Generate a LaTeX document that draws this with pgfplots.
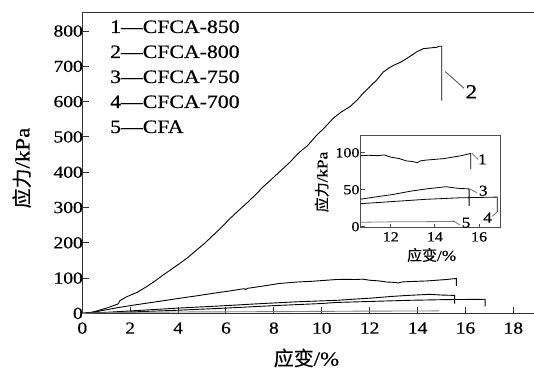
\documentclass[border=0pt]{standalone}
\usepackage{pgfplots}
\usepackage{pgfplotstable}
\pgfplotsset{compat=1.18}
\usepackage{fontspec}
\setmainfont[FakeStretch=1.15, FakeBold=0.6]{Liberation Serif}
\newfontfamily\cjk[FakeBold=0.4]{Noto Sans CJK SC}

% stress (kPa) vs strain (%)
\pgfplotstableread{
x y
0 0
0.6 5
1.29 14
2.0 22
2.69 29
3.4 36
4.08 43
4.8 50
5.47 57
6.1 63
6.75 70
6.82 67.5
6.9 71
7.5 77
8.25 85
9.0 89
9.6 91
10.2 94
10.6 96
11.0 96.5
11.4 96
11.7 97
12.0 94
12.4 92
12.7 89
13.0 88
13.2 86.5
13.35 89
13.6 90
14.0 91
14.4 92
14.8 94
15.2 96
15.62 99
15.62 78
}\curveA

\pgfplotstableread{
x y
0 0
0.4 3
0.74 9.6
1.1 17
1.50 27
1.57 36
1.85 47
2.3 60
2.69 76
3.0 90
3.38 109
3.7 124
4.08 142
4.4 158
4.78 180
5.1 198
5.47 222
5.8 243
6.17 269
6.5 290
6.86 312
7.2 334
7.56 359
7.9 380
8.25 402
8.6 424
9.09 458
9.4 475
9.79 505
10.1 525
10.48 553
10.8 570
11.18 586
11.5 606
11.73 624
12.0 642
12.29 661
12.57 684
12.8 695
13.0 703
13.3 712
13.54 722
13.75 731
13.96 741
14.24 750
14.5 752
14.8 754
14.9 757
15.01 757
15.01 603
}\curveB

\pgfplotstableread{
x y
0 0
1 3
2 7
3 11
4 15
5 18.5
6 22
7 26
7.84 29
9 33
10 35.5
10.6 37
11.5 41
12.1 43.5
12.9 48
13.6 51
14.5 54
15.0 52
15.55 51
15.55 28
}\curveC

\pgfplotstableread{
x y
0 0
2 4
4 9
6 15
8 22
10 28
10.6 31
12.1 34
13.6 37
15.1 39
16.82 40
16.82 20
}\curveD

\pgfplotstableread{
x y
0 0
1 2
2 3
4 4
8 5
12 6.5
14.9 7
}\curveE

\begin{document}
\begin{tikzpicture}
% main axes
\begin{axis}[
  at={(82.3bp,56.6bp)}, anchor=south west,
  scale only axis, width=455bp, height=300.7bp,
  xmin=0, xmax=19, ymin=0, ymax=852,
  xtick={0,2,...,18}, ytick={0,100,...,800},
  tick pos=left, tick align=inside, major tick length=6.5bp,
  axis line style={line width=1.2bp, black!80},
  tick style={line width=1bp, black!80},
  /pgf/number format/assume math mode=true,
  tick label style={font=\fontsize{17}{17}\selectfont},
  xticklabel style={yshift=-5.5bp},
  yticklabel style={xshift=4bp},
  every axis plot/.append style={line width=0.9bp},
]
\addplot[black] table {\curveA};
\addplot[black] table {\curveB};
\addplot[black] table {\curveC};
\addplot[black] table {\curveD};
\addplot[black!50] table {\curveE};
\draw[black!70, line width=0.8bp] (axis cs:15.16,685) -- (axis cs:15.94,638);
\node[font=\fontsize{20}{20}\selectfont] at (axis cs:16.25,628) {2};
\end{axis}

% legend text
\begin{scope}[every node/.style={anchor=base west, inner sep=0, font=\fontsize{19}{19}\selectfont}]
\node at (110bp,337bp) {1—CFCA-850};
\node at (110bp,312bp) {2—CFCA-800};
\node at (110bp,287bp) {3—CFCA-750};
\node at (110bp,262bp) {4—CFCA-700};
\node at (110bp,237bp) {5—CFA};
\end{scope}

% axis titles
\node[font=\fontsize{20}{20}\selectfont] at (306.5bp,12bp) {{\cjk 应变}/\%};
\node[font=\fontsize{20}{20}\selectfont, rotate=90] at (21.7bp,202bp) {{\cjk 应力}/kPa};

% inset: detail of the low-stress curves
\begin{axis}[
  at={(360.7bp,142.3bp)}, anchor=south west,
  scale only axis, width=140bp, height=92bp,
  xmin=10.64, xmax=16.98, ymin=-1.4, ymax=123,
  xtick={12,14,16}, ytick={0,50,100},
  tick pos=left, tick align=inside, major tick length=4bp,
  axis line style={line width=1.2bp, black!70},
  tick style={line width=0.9bp, black!70},
  axis background/.style={fill=white},
  /pgf/number format/assume math mode=true,
  tick label style={font=\fontsize{14}{14}\selectfont},
  xticklabel style={yshift=-1bp},
  yticklabel style={xshift=2.3bp},
  every axis plot/.append style={line width=0.8bp},
]
\addplot[black] table {\curveA};
\addplot[black] table {\curveC};
\addplot[black] table {\curveD};
\addplot[black!50] table {\curveE};
\begin{scope}[black!60, line width=0.7bp]
\draw (axis cs:15.68,99) -- (axis cs:15.96,91);
\draw (axis cs:15.59,51) -- (axis cs:15.89,46);
\draw (axis cs:16.82,20) -- (axis cs:16.6,14);
\draw (axis cs:14.83,8) -- (axis cs:15.14,2);
\end{scope}
\begin{scope}[every node/.style={font=\fontsize{15}{15}\selectfont}]
\node at (axis cs:16.15,91) {1};
\node at (axis cs:16.19,48.6) {3};
\node at (axis cs:16.39,12.2) {4};
\node at (axis cs:15.41,5.4) {5};
\end{scope}
\end{axis}
\node[font=\fontsize{15}{15}\selectfont] at (431.7bp,115bp) {{\cjk 应变}/\%};
\node[font=\fontsize{15}{15}\selectfont, rotate=90] at (321.7bp,188bp) {{\cjk 应力}/kPa};

\pgfresetboundingbox
\useasboundingbox (0,0) rectangle (534bp,370bp);
\end{tikzpicture}
\end{document}
